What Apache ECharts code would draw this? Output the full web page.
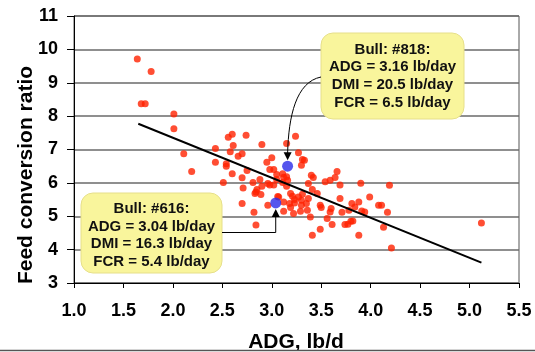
<!DOCTYPE html>
<html>
<head>
<meta charset="utf-8">
<script src="https://cdn.jsdelivr.net/npm/echarts@6/dist/echarts.min.js"></script>
<style>
  html, body { margin: 0; padding: 0; background: #fff; }
  #chart { width: 535px; height: 352px; }
</style>
</head>
<body>
<div id="chart"></div>
<script>
// herd: [ADG lb/d, feed conversion ratio]
const herd = [
  [1.64, 9.71], [1.78, 9.34], [1.68, 8.37], [1.72, 8.37], [2.01, 8.06], [2.01, 7.62],
  [2.11, 6.87], [2.19, 6.34], [2.43, 7.03], [2.43, 6.62], [2.56, 7.37], [2.60, 7.46],
  [2.61, 7.12], [2.58, 6.93], [2.74, 7.43], [2.66, 6.80], [2.70, 6.87], [2.54, 6.57],
  [2.54, 6.50], [2.60, 6.27], [2.70, 6.15], [2.75, 6.37], [2.90, 7.15], [3.15, 7.18],
  [3.24, 7.40], [3.27, 6.90], [3.30, 6.53], [3.31, 6.70], [3.33, 6.68], [3.00, 6.75],
  [2.95, 6.62], [2.98, 6.40], [3.02, 6.40], [3.05, 6.25], [3.11, 6.27], [3.12, 6.17],
  [2.51, 6.01], [2.70, 5.38], [2.71, 5.85], [2.81, 6.01], [2.83, 5.68], [2.84, 5.73],
  [2.88, 6.10], [2.90, 5.90], [2.89, 5.65], [2.82, 5.12], [2.84, 4.74], [2.98, 5.94],
  [3.02, 5.94], [3.05, 6.10], [3.06, 5.59], [3.15, 6.18], [3.11, 6.01], [3.18, 5.38],
  [3.21, 5.60], [3.23, 5.50], [3.27, 5.58], [3.30, 5.33], [3.29, 5.15], [3.35, 5.38],
  [3.36, 5.18], [3.37, 5.53], [3.12, 5.15], [3.22, 5.08], [3.16, 6.08], [3.15, 5.90],
  [3.19, 5.68], [3.31, 5.66], [3.37, 5.98], [3.39, 4.98], [3.40, 6.23], [3.42, 6.16],
  [3.41, 5.80], [3.41, 4.43], [3.46, 5.68], [3.49, 5.33], [3.50, 5.26], [3.49, 4.61],
  [3.54, 6.03], [3.56, 4.93], [3.59, 6.08], [3.59, 5.13], [3.60, 5.23], [3.61, 4.75],
  [3.64, 6.16], [3.66, 6.34], [3.69, 5.94], [3.69, 5.53], [3.71, 5.12], [3.74, 4.75],
  [3.77, 4.76], [3.78, 5.18], [3.80, 4.85], [3.82, 4.86], [3.81, 5.38], [3.84, 5.28],
  [3.88, 5.43], [3.88, 4.43], [3.91, 5.16], [3.94, 5.13], [3.90, 5.99], [3.99, 5.58],
  [4.08, 5.33], [4.11, 5.33], [4.13, 4.67], [4.17, 5.12], [4.19, 5.93], [4.21, 4.05],
  [5.12, 4.80], [2.96, 5.33], [3.12, 5.43], [3.19, 5.26], [3.07, 5.58], [2.96, 5.98],
  [3.23, 5.40], [3.30, 5.48], [2.85, 5.80]
]

// fitted line ends
const trendADG = [1.65, 5.12]
const trendFCR = [7.77, 3.61]

// highlighted bulls
const bullIds = ['#818', '#616']
const bullADG = [3.16, 3.04]
const bullDMI = [20.5, 16.3]
const bullFCR = [6.5, 5.4]

const FONT = '"Liberation Sans", Arial, sans-serif'

const chart = echarts.init(document.getElementById('chart'))
chart.setOption({
  animation: false,
  grid: {
    left: 74,
    top: 16,
    right: 16,
    bottom: 69,
    show: true,
    borderColor: '#555',
    borderWidth: 1,
  },
  xAxis: {
    type: 'value',
    min: 1,
    max: 5.5,
    interval: 0.5,
    axisLine: { show: true, onZero: false, lineStyle: { color: '#000', width: 1 } },
    axisTick: { show: true, length: 5, lineStyle: { color: '#000' } },
    axisLabel: {
      formatter: (v) => v.toFixed(1),
      fontFamily: FONT,
      fontWeight: 'bold',
      fontSize: 18,
      color: '#000',
      margin: 19,
    },
    splitLine: { show: false },
  },
  yAxis: {
    type: 'value',
    min: 3,
    max: 11,
    interval: 1,
    axisLine: { show: true, onZero: false, lineStyle: { color: '#000', width: 1 } },
    axisTick: { show: true, length: 7, lineStyle: { color: '#000' } },
    axisLabel: {
      fontFamily: FONT,
      fontWeight: 'bold',
      fontSize: 18,
      color: '#000',
      margin: 16,
    },
    splitLine: { lineStyle: { color: '#6a6a6a', width: 1.5 } },
  },
  series: [
    {
      type: 'scatter',
      data: herd,
      symbolSize: 7,
      itemStyle: { color: '#FF2200' },
      z: 2,
    },
    {
      type: 'line',
      data: trendADG.map((x, i) => [x, trendFCR[i]]),
      symbol: 'none',
      lineStyle: { color: '#000', width: 2 },
      z: 3,
    },
    {
      type: 'scatter',
      data: bullADG.map((x, i) => [x, bullFCR[i]]),
      symbolSize: 11,
      itemStyle: { color: '#2B2BE8' },
      z: 4,
    },
  ],
})

// callouts, pointed at the bulls through the axes
const p818 = chart.convertToPixel({ gridIndex: 0 }, [bullADG[0], bullFCR[0]])
const p616 = chart.convertToPixel({ gridIndex: 0 }, [bullADG[1], bullFCR[1]])

function calloutText(i) {
  return [
    'Bull: ' + bullIds[i] + ':',
    'ADG = ' + bullADG[i].toFixed(2) + ' lb/day',
    'DMI = ' + bullDMI[i].toFixed(1) + ' lb/day',
    'FCR = ' + bullFCR[i].toFixed(1) + ' lb/day',
  ].join('\n')
}

const boxStyle = { fill: '#F9F59C', stroke: '#E6DF8A', lineWidth: 1 }
const textStyle = {
  font: 'bold 15px ' + FONT,
  fill: '#111',
  align: 'center',
  verticalAlign: 'middle',
  lineHeight: 17.7,
}
const wire = { stroke: '#000', lineWidth: 1, fill: null }

chart.setOption({
  graphic: [
    // #818
    { type: 'rect', shape: { x: 321, y: 33, width: 143, height: 86, r: 12 }, style: boxStyle, z: 10 },
    { type: 'text', style: Object.assign({ text: calloutText(0), x: 392.5, y: 76 }, textStyle), z: 11 },
    {
      type: 'bezierCurve',
      shape: {
        x1: 321, y1: 77,
        cpx1: 296, cpy1: 82,
        cpx2: p818[0] + 1, cpy2: p818[1] - 50,
        x2: p818[0], y2: p818[1] - 13,
      },
      style: wire,
      z: 10,
    },
    {
      type: 'polygon',
      shape: { points: [[p818[0] - 4, p818[1] - 14], [p818[0] + 4, p818[1] - 14], [p818[0], p818[1] - 6]] },
      style: { fill: '#000' },
      z: 10,
    },
    // #616
    { type: 'rect', shape: { x: 81, y: 193, width: 141, height: 80, r: 12 }, style: boxStyle, z: 10 },
    { type: 'text', style: Object.assign({ text: calloutText(1), x: 151.5, y: 235.5 }, textStyle), z: 11 },
    {
      type: 'polyline',
      shape: { points: [[222, 232.5], [p616[0], 232.5], [p616[0], p616[1] + 13]] },
      style: wire,
      z: 10,
    },
    {
      type: 'polygon',
      shape: { points: [[p616[0] - 4, p616[1] + 14], [p616[0] + 4, p616[1] + 14], [p616[0], p616[1] + 6]] },
      style: { fill: '#000' },
      z: 10,
    },
    // axis titles
    {
      type: 'text',
      style: { text: 'ADG, lb/d', x: 296, y: 342, font: 'bold 21px ' + FONT, fill: '#000', align: 'center', verticalAlign: 'middle' },
      z: 5,
    },
    {
      type: 'text',
      rotation: Math.PI / 2,
      x: 26,
      y: 175,
      style: { text: 'Feed conversion ratio', x: 0, y: 0, font: 'bold 21px ' + FONT, fill: '#000', align: 'center', verticalAlign: 'middle' },
      z: 5,
    },
    // frame line at the foot
    { type: 'line', shape: { x1: 0, y1: 350.5, x2: 535, y2: 350.5 }, style: { stroke: '#555', lineWidth: 1.5 }, z: 6 },
    { type: 'rect', shape: { x: 0, y: 351.3, width: 535, height: 1 }, style: { fill: '#ddd' }, z: 6 },
  ],
})
</script>
</body>
</html>
